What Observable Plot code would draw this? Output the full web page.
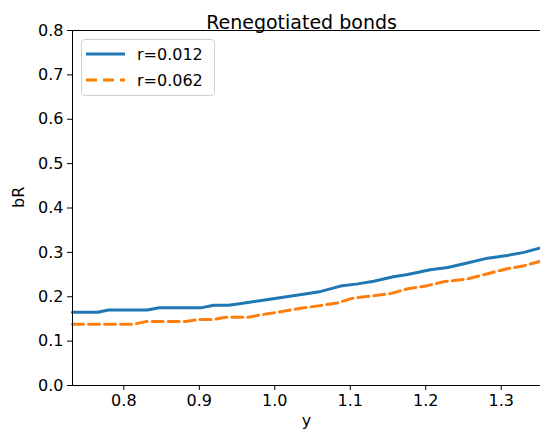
<!DOCTYPE html>
<html>
<head>
<meta charset="utf-8">
<script src="https://cdn.jsdelivr.net/npm/d3@7"></script>
<script src="https://cdn.jsdelivr.net/npm/@observablehq/plot@0.6"></script>
<style>
  html, body { margin: 0; padding: 0; background: white; }
  #wrap { position: relative; width: 540px; height: 437px; font-family: "DejaVu Sans", sans-serif; }
  #legend { position: absolute; left: 81px; top: 39px; width: 134px; height: 57px;
    border: 1px solid #d0d0d0; border-radius: 4px; background: rgba(255,255,255,0.8); box-sizing: border-box; }
  .row { position: absolute; left: 4px; height: 20px; display: flex; align-items: center; font-size: 16px; color: #000; }
  .row svg { margin-right: 12px; }
</style>
</head>
<body>
<div id="wrap"></div>
<script>
const title = "Renegotiated bonds";
const seriesNames = ["r=0.012", "r=0.062"];
const seriesColors = ["#1f77b4", "#ff7f0e"];
const xTicks = [0.8, 0.9, 1.0, 1.1, 1.2, 1.3];
const yTicks = [0, 0.1, 0.2, 0.3, 0.4, 0.5, 0.6, 0.7, 0.8];

const xA = [0.732, 0.765, 0.780, 0.831, 0.847, 0.902, 0.919, 0.939, 0.960, 0.980, 1.000, 1.020, 1.040, 1.061, 1.087, 1.110, 1.131, 1.157, 1.176, 1.206, 1.229, 1.255, 1.282, 1.308, 1.330, 1.352];
const yA = [0.165, 0.165, 0.170, 0.170, 0.175, 0.175, 0.181, 0.181, 0.186, 0.191, 0.196, 0.201, 0.206, 0.212, 0.224, 0.229, 0.235, 0.245, 0.250, 0.261, 0.266, 0.276, 0.287, 0.293, 0.300, 0.310];

const xB = [0.732, 0.813, 0.829, 0.882, 0.899, 0.919, 0.935, 0.965, 0.980, 1.000, 1.034, 1.060, 1.083, 1.104, 1.130, 1.153, 1.176, 1.202, 1.224, 1.255, 1.282, 1.308, 1.330, 1.352];
const yB = [0.138, 0.138, 0.144, 0.144, 0.149, 0.149, 0.154, 0.154, 0.159, 0.164, 0.174, 0.180, 0.186, 0.197, 0.202, 0.207, 0.218, 0.225, 0.234, 0.240, 0.252, 0.263, 0.270, 0.280];

const dataA = xA.map((x, i) => ({x, y: yA[i]}));
const dataB = xB.map((x, i) => ({x, y: yB[i]}));

const chart = Plot.plot({
  width: 540, height: 437,
  marginLeft: 72, marginRight: 0, marginTop: 30, marginBottom: 52,
  style: {fontFamily: "DejaVu Sans, sans-serif", fontSize: "16px", color: "black", background: "white", overflow: "visible"},
  x: {domain: [0.732, 1.352], ticks: xTicks, tickFormat: d => d.toFixed(1), tickSize: 5, tickPadding: 4, label: null},
  y: {domain: [0, 0.8], ticks: yTicks, tickFormat: d => d.toFixed(1), tickSize: 5, tickPadding: 4, label: null},
  marks: [
    Plot.line(dataA, {x: "x", y: "y", stroke: seriesColors[0], strokeWidth: 3}),
    Plot.line(dataB, {x: "x", y: "y", stroke: seriesColors[1], strokeWidth: 3, strokeDasharray: "11,5"}),
    Plot.ruleX([0.732], {stroke: "black", strokeWidth: 1}),
    Plot.ruleY([0], {stroke: "black", strokeWidth: 1}),
    Plot.ruleY([0.8], {stroke: "black", strokeWidth: 1}),
    Plot.text([title], {frameAnchor: "top", dx: -5, dy: -15, fontSize: 19, fill: "black"}),
    Plot.text(["y"], {frameAnchor: "bottom", dy: 40, fontSize: 16, fill: "black"}),
    Plot.text(["bR"], {frameAnchor: "left", dx: -54, rotate: -90, fontSize: 16, fill: "black"})
  ]
});
const wrap = document.getElementById("wrap");
wrap.appendChild(chart);

const legend = document.createElement("div");
legend.id = "legend";
seriesNames.forEach((name, i) => {
  const row = document.createElement("div");
  row.className = "row";
  row.style.top = (4 + i * 26) + "px";
  const dash = i === 1 ? 'stroke-dasharray="11,6"' : "";
  row.innerHTML = `<svg width="39" height="6"><line x1="0" y1="3" x2="39" y2="3" stroke="${seriesColors[i]}" stroke-width="3" ${dash}/></svg><span>${name}</span>`;
  legend.appendChild(row);
});
wrap.appendChild(legend);
</script>
</body>
</html>
